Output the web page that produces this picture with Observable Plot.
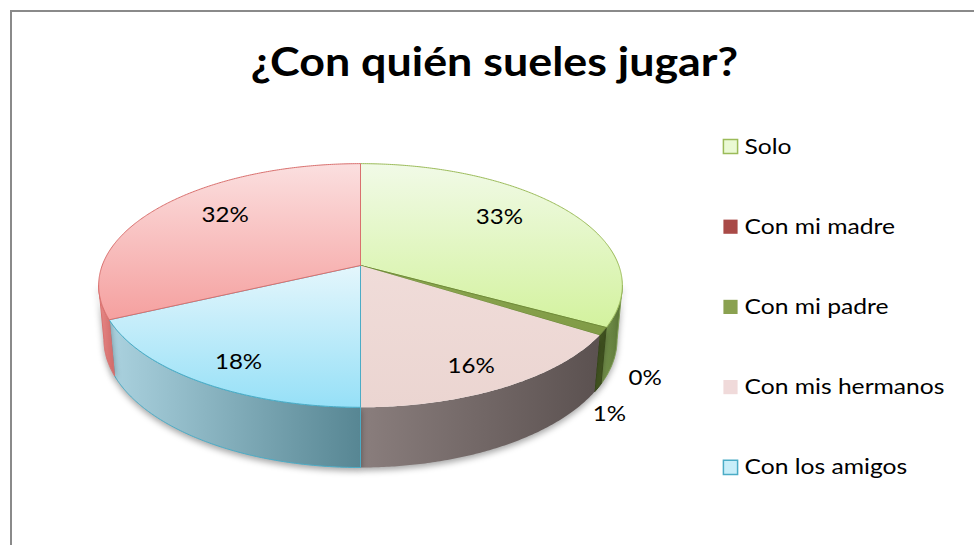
<!DOCTYPE html>
<html><head><meta charset="utf-8">
<script src="https://cdn.jsdelivr.net/npm/d3@7"></script>
<script src="https://cdn.jsdelivr.net/npm/@observablehq/plot@0.6"></script>
<style>
body{margin:0;background:#fff;}
#wrap{position:relative;width:974px;height:545px;overflow:hidden;}
#frame{position:absolute;left:10px;top:10px;width:1000px;height:600px;border-left:2px solid #8a8a8a;border-top:2px solid #8a8a8a;box-sizing:border-box;}
#chart{position:absolute;left:0;top:0;}
</style></head><body>
<div id="wrap"><div id="frame"></div><div id="chart"></div></div>
<script>
// ---- data ----
const title = "¿Con quién sueles jugar?";
const categories = ["Solo", "Con mi madre", "Con mi padre", "Con mis hermanos", "Con los amigos", ""];
const values = [33, 0, 1, 16, 18, 32];
const legendCategories = ["Solo", "Con mi madre", "Con mi padre", "Con mis hermanos", "Con los amigos"];

// ---- styles ----
const topStops = [["#f1fae7","#d3f29e"],["#a94a47","#a94a47"],["#8ca650","#809b46"],["#f0dcd9","#ebd5d1"],["#e4f6fc","#96e0f7"],["#fbdfdf","#f5a09f"]];
const rimStops = [["#7d9b52","#556f33"],["#8a3a38","#8a3a38"],["#4a5e25","#3a4a1c"],["#8a7e7d","#5b5150"],["#abd2df","#578693"],["#e88a88","#d06a68"]];
const topStroke = ["#9bbb59","none","#6f8a3a","none","#4bacc6","#d9706e"];
const rimStroke = ["#7d9b52","none","#3a4a1c","none","#4bacc6","#d9706e"];
const legendFill = ["#eaf9d4","#a94a47","#8aa150","#f0dada","#c8eef9"];
const legendStroke = ["#9bbb59","none","none","none","#4bacc6"];
const TEXT_STRETCH = 1.12; // Calibri-like width from Lato

// ---- 3D perspective geometry ----
const F = 1400, D = 5.42, S = 0.459, C = Math.sqrt(1 - S*S), H = 0.237;
function projUV(u, v, h){ const z = D + v*C - h*S; return {px: u/z, py: (v*S + h*C)/z}; }
function proj(t, r, h){ return projUV(r*Math.sin(t), r*Math.cos(t), h); }
function arc(a0, a1, r, h){
  const n = Math.max(2, Math.ceil((a1-a0)/(Math.PI/360)));
  const pts = [];
  for (let k = 0; k <= n; k++) pts.push(proj(a0 + (a1-a0)*k/n, r, h));
  return pts;
}
const VIS0 = Math.acos(-C/D), VIS1 = 2*Math.PI - VIS0;
const arcs = d3.pie().sort(null).value(d => d)(values);

const marks = [];
// rims (outer walls)
arcs.forEach((a, i) => {
  const b0 = Math.max(a.startAngle, VIS0), b1 = Math.min(a.endAngle, VIS1);
  if (b1 - b0 <= 1e-6) return;
  const top = arc(b0, b1, 1, 0), bot = arc(b0, b1, 1, -H).reverse();
  const pts = [...top, ...bot, top[0]];
  marks.push(Plot.line(pts, {x: "px", y: "py", curve: "linear", fill: `url(#gRim${i})`, stroke: rimStroke[i], strokeWidth: 1,
    imageFilter: "drop-shadow(0px 3px 3px rgba(0,0,0,0.35))"}));
});
// tops
arcs.forEach((a, i) => {
  if (a.endAngle - a.startAngle <= 1e-6) return;
  const c = proj(0, 0, 0);
  const pts = [c, ...arc(a.startAngle, a.endAngle, 1, 0), c];
  marks.push(Plot.line(pts, {x: "px", y: "py", curve: "linear", fill: `url(#gTop${i})`, stroke: topStroke[i], strokeWidth: 1}));
});
// data labels
const labelData = [];
let k = 0;
arcs.forEach((a, i) => {
  const t = (a.startAngle + a.endAngle)/2;
  const pct = Math.round(values[i]) + "%";
  if (values[i] >= 5) {
    const rx = 0.71 - 0.08*Math.cos(t);
    const p = projUV(rx*Math.sin(t), 0.85*Math.cos(t), 0);
    labelData.push({...p, label: pct});
  } else {
    const p = proj(t + k*0.21, 1.16, -0.7*H);
    labelData.push({...p, label: pct});
    k++;
  }
});
marks.push(Plot.text(labelData, {x: "px", y: "py", text: "label", fontSize: 21.5, fill: "#000", fontFamily: "Lato", textAnchor: "middle", lineAnchor: "middle"}));
// title
marks.push(Plot.text([title], {text: d => d, frameAnchor: "top", dx: 7, dy: 63, fontSize: 40, fontWeight: "bold", fontFamily: "Lato", fill: "#000", lineAnchor: "middle"}));
// legend
legendCategories.forEach((name, i) => {
  marks.push(Plot.dot([name], {frameAnchor: "top-left", dx: 730, dy: 146 + 80.2*i, symbol: "square", r: 8, fill: legendFill[i], stroke: legendStroke[i], strokeWidth: 1.5}));
  marks.push(Plot.text([name], {text: d => d, frameAnchor: "top-left", dx: 744, dy: 146 + 80.2*i, textAnchor: "start", lineAnchor: "middle", fontSize: 22, fontFamily: "Lato", fill: "#000"}));
});

const svg = Plot.plot({
  width: 974, height: 545, margin: 0,
  x: {domain: [-360/F, 614/F], range: [0, 974], axis: null},
  y: {domain: [-280/F, 265/F], range: [545, 0], axis: null},
  style: {background: "transparent", overflow: "visible", fontFamily: "Lato"},
  marks
});
// gradients
let defs = "<defs>";
topStops.forEach((s, i) => {
  defs += `<linearGradient id="gTop${i}" x1="0" y1="0" x2="0" y2="1"><stop offset="0" stop-color="${s[0]}"/><stop offset="1" stop-color="${s[1]}"/></linearGradient>`;
});
rimStops.forEach((s, i) => {
  defs += `<linearGradient id="gRim${i}" x1="0" y1="0" x2="1" y2="0"><stop offset="0" stop-color="${s[0]}"/><stop offset="1" stop-color="${s[1]}"/></linearGradient>`;
});
defs += "</defs>";
svg.insertAdjacentHTML("afterbegin", defs);
document.getElementById("chart").appendChild(svg);
// widen Lato text to Calibri-like proportions
svg.querySelectorAll("text").forEach(t => {
  const len = t.getComputedTextLength();
  if (len > 0) {
    t.setAttribute("textLength", (len * TEXT_STRETCH).toFixed(1));
    t.setAttribute("lengthAdjust", "spacingAndGlyphs");
  }
});
</script>
</body></html>
